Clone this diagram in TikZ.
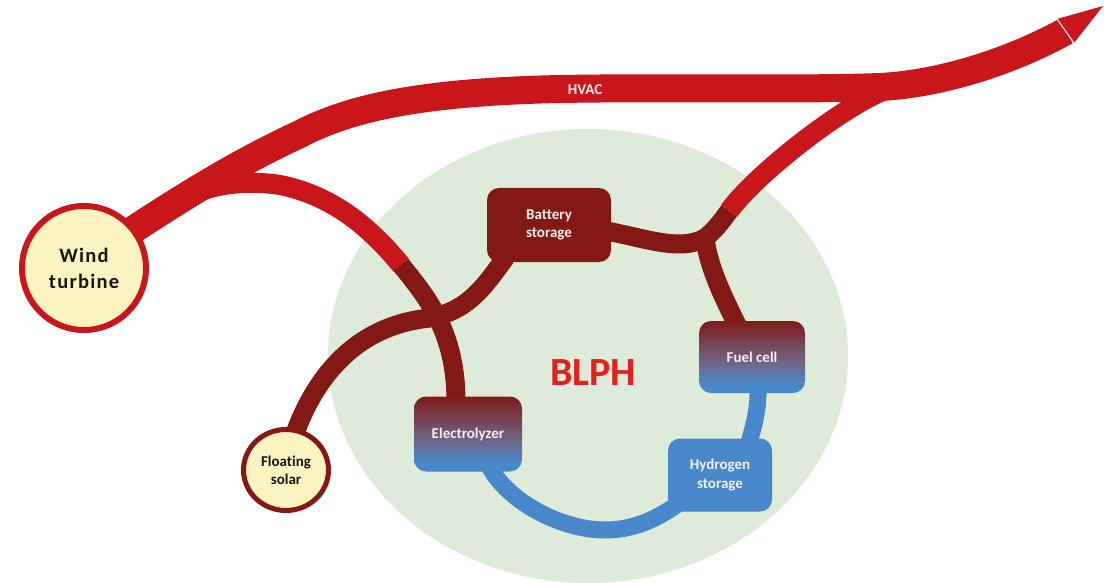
\documentclass[tikz,border=0pt]{standalone}
\usepackage{fontspec}
\setmainfont{Carlito}[Ligatures=NoCommon]
\newfontfamily\widefont[LetterSpace=6,Ligatures=NoCommon]{Carlito}
\usetikzlibrary{shapes.geometric,backgrounds,calc}

\definecolor{bandred}{RGB}{200,22,26}
\definecolor{linkred}{RGB}{132,24,20}
\definecolor{celltop}{RGB}{126,28,26}
\definecolor{cellmauve}{RGB}{112,104,140}
\definecolor{gasblue}{RGB}{72,136,202}
\definecolor{zonegreen}{RGB}{222,235,218}
\definecolor{srcyellow}{RGB}{251,244,192}
\definecolor{titlered}{RGB}{226,32,28}
\definecolor{labelwhite}{RGB}{246,240,240}
\definecolor{labelblack}{RGB}{26,22,20}

% dark red on top fading through mauve to blue at the bottom
\pgfdeclareverticalshading{cellgrad}{100bp}{color(0bp)=(gasblue); color(31bp)=(gasblue); color(45bp)=(cellmauve); color(75bp)=(celltop); color(100bp)=(celltop)}

\tikzset{
  band/.style={draw=bandred, line width=28pt},
  feed/.style={draw=bandred, line width=20pt},
  link/.style={draw=linkred, line width=19pt},
  gas/.style={draw=gasblue, line width=17pt},
  unit/.style={rectangle, rounded corners=12pt, inner sep=0pt, align=center,
    text=labelwhite, font=\bfseries\fontsize{15}{18.5}\selectfont},
  cellbox/.style={unit, shade, shading=cellgrad},
  source/.style={fill=srcyellow, inner sep=0pt, align=center, text=labelblack},
}

\begin{document}
\begin{tikzpicture}[x=1pt,y=-1pt]
\useasboundingbox (0,0) rectangle (1104,583);

% plant components
\node[unit, fill=linkred, minimum width=124, minimum height=74] (bat) at (549,225) {Battery\\storage};
\node[cellbox, minimum width=106, minimum height=72] (fc) at (752,357) {Fuel cell};
\node[cellbox, minimum width=108, minimum height=75] (ely) at (468,434) {Electrolyzer};
\node[unit, fill=gasblue, minimum width=104, minimum height=73] (hs) at (720,475) {Hydrogen\\storage};

% generation sources
\node[source, circle, draw=bandred, line width=6pt, minimum size=124,
      font=\widefont\bfseries\fontsize{20.5}{26}\selectfont] (wt) at (84,268) {Wind\\turbine};
\node[source, ellipse, draw=linkred, line width=5pt, minimum width=85, minimum height=81,
      font=\bfseries\fontsize{15}{18}\selectfont] (fs) at (286,470) {Floating\\solar};

% hub label
\node[text=titlered, font=\bfseries\fontsize{40}{40}\selectfont] (blph) at (593,373) {BLPH};

% export arrow head
\coordinate (tail) at (1066,31);
\coordinate (headL) at (1057,19);
\coordinate (headR) at (1074,43);
\coordinate (tip) at (1103,6);

% junctions along the links
\coordinate (c1) at (401,265);
\coordinate (c2) at (729,211);
\coordinate (j1) at (430,318);
\coordinate (j2) at (705,238);

\begin{pgfonlayer}{background}
  \fill[zonegreen] (588,356) ellipse [x radius=260, y radius=227];

  % HVAC export line from the wind turbine
  \draw[band] ($(wt.center)+(26,-23)$) .. controls (190,192) and (240,162) .. (300,134)
     .. controls (350,108) and (420,92) .. (560,89)
     .. controls (680,87) and (800,90) .. (880,87)
     .. controls (940,84) and (1010,62) .. (tail);
  \fill[bandred] (headL) -- (tip) -- (headR) -- cycle;
  \draw[white, line width=1.2pt, opacity=0.85] (headL) -- (headR);

  % feeders leaving the export line
  \draw[feed] (165,208) .. controls (195,188) and (235,178) .. (280,185)
     .. controls (335,196) and (372,230) .. (c1);
  \draw[feed] (885,90) .. controls (840,108) and (755,175) .. (c2);

  % internal electrical links
  \draw[link] (c1) .. controls (425,295) and (456,330) .. ($(ely.north)+(-12,5)$);
  \draw[link] ($(fs.center)+(5,-25)$) .. controls (310,385) and (350,326) .. (j1)
     .. controls (470,310) and (485,285) .. ($(bat.south west)+(19,-5)$);
  \draw[link] ($(bat.east)+(-5,6)$) .. controls (645,238) and (680,252) .. (j2)
     .. controls (715,230) and (721,222) .. (c2);
  \draw[link] (j2) .. controls (708,265) and (722,295) .. ($(fc.north)+(-14,6)$);

  % hydrogen links
  \draw[gas] ($(fc.south)+(6,-8)$) .. controls (759,410) and (753,428) .. ($(hs.north)+(28,8)$);
  \draw[gas] ($(ely.south)+(20,-8)$) .. controls (505,500) and (560,530) .. (605,530)
     .. controls (640,530) and (665,514) .. ($(hs.south west)+(20,-15)$);
\end{pgfonlayer}

\node[text=labelwhite, font=\bfseries\fontsize{15}{15}\selectfont] (hvac) at (585,90) {HVAC};
\end{tikzpicture}
\end{document}
